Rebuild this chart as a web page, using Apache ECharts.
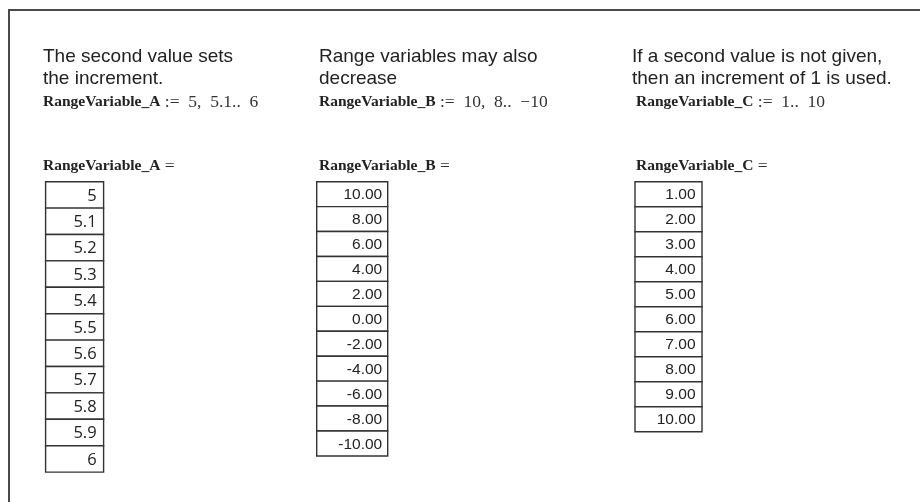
<!DOCTYPE html>
<html>
<head>
<meta charset="utf-8">
<script src="https://cdn.jsdelivr.net/npm/echarts@6/dist/echarts.min.js"></script>
<style>html,body{margin:0;padding:0;background:#fff}#c{width:920px;height:502px}</style>
</head>
<body>
<div id="c"></div>
<script>
// ---- data ----
const headingA = ['The second value sets', 'the increment.'];
const headingB = ['Range variables may also', 'decrease'];
const headingC = ['If a second value is not given,', 'then an increment of 1 is used.'];
const nameA = 'RangeVariable_A', defA = ':=\u20025,\u20025.1..\u20026';
const nameB = 'RangeVariable_B', defB = ':=\u200210,\u20028..\u2002\u221210';
const nameC = 'RangeVariable_C', defC = ':=\u20021..\u200210';
const valuesA = [5, 5.1, 5.2, 5.3, 5.4, 5.5, 5.6, 5.7, 5.8, 5.9, 6];
const valuesB = [10, 8, 6, 4, 2, 0, -2, -4, -6, -8, -10];
const valuesC = [1, 2, 3, 4, 5, 6, 7, 8, 9, 10];

const chart = echarts.init(document.getElementById('c'), null, {renderer: 'canvas'});

const tables = [
  {vals: valuesA, fmt: v => String(v), left: 45.6, width: 58, rowH: 26.4, pad: 7, font: '"Open Sans", "Noto Sans", sans-serif', size: 16.5},
  {vals: valuesB, fmt: v => v.toFixed(2), left: 316.7, width: 71, rowH: 24.93, pad: 5.5, font: '"Liberation Sans", Arial, sans-serif', size: 15.5},
  {vals: valuesC, fmt: v => v.toFixed(2), left: 635, width: 67, rowH: 25, pad: 6.5, font: '"Liberation Sans", Arial, sans-serif', size: 15.5}
];
const tableTop = 181.7;

const grids = [], xAxes = [], yAxes = [], series = [];
tables.forEach((t, gi) => {
  grids.push({left: t.left, top: tableTop, width: t.width, height: t.rowH * t.vals.length, containLabel: false});
  xAxes.push({type: 'category', gridIndex: gi, data: ['v'], show: false});
  yAxes.push({type: 'category', gridIndex: gi, inverse: true, data: t.vals.map((v, i) => i), show: false});
  series.push({
    type: 'custom',
    xAxisIndex: gi, yAxisIndex: gi,
    clip: false,
    data: t.vals.map((v, i) => [0, i, v]),
    encode: {x: 0, y: 1},
    renderItem: function (params, api) {
      const c = api.coord([0, api.value(1)]);
      const s = api.size([1, 1]);
      const v = api.value(2);
      return {
        type: 'group',
        children: [
          {type: 'rect', shape: {x: c[0] - s[0] / 2, y: c[1] - s[1] / 2, width: s[0], height: s[1]},
           style: {fill: '#fff', stroke: '#333', lineWidth: 1.4}},
          {type: 'text', style: {text: t.fmt(v), x: c[0] + s[0] / 2 - t.pad, y: c[1] + 1,
            align: 'right', verticalAlign: 'middle', fontFamily: t.font, fontSize: t.size, fill: '#222'}}
        ]
      };
    }
  });
});

function heading(lines, x) {
  return lines.map((ln, i) => ({
    type: 'text', left: x, top: 47 + i * 22, silent: true,
    style: {text: ln, fontFamily: '"Liberation Sans", Arial, sans-serif', fontSize: 19, fill: '#222'}
  }));
}
const rich = {
  b: {fontFamily: '"Liberation Serif", "Times New Roman", serif', fontWeight: 'bold', fontSize: 15.5, fill: '#222', color: '#222'},
  n: {fontFamily: '"Liberation Serif", "Times New Roman", serif', fontSize: 17.5, fill: '#333', color: '#333'}
};
function formula(name, def, x, y) {
  return {type: 'text', left: x, top: y, silent: true,
    style: {text: '{b|' + name + '}{n| ' + def + '}', rich: rich}};
}

const graphic = [
  {type: 'rect', silent: true, shape: {x: 9, y: 10, width: 940, height: 520},
   style: {fill: 'none', stroke: '#4a4a4a', lineWidth: 2}},
  ...heading(headingA, 43), ...heading(headingB, 319), ...heading(headingC, 632),
  formula(nameA, defA, 43, 93), formula(nameB, defB, 319, 93), formula(nameC, defC, 636, 93),
  formula(nameA, '=', 43, 157), formula(nameB, '=', 319, 157), formula(nameC, '=', 636, 157)
];

chart.setOption({
  animation: false,
  backgroundColor: '#fff',
  grid: grids, xAxis: xAxes, yAxis: yAxes, series: series,
  graphic: graphic
});
</script>
</body>
</html>
